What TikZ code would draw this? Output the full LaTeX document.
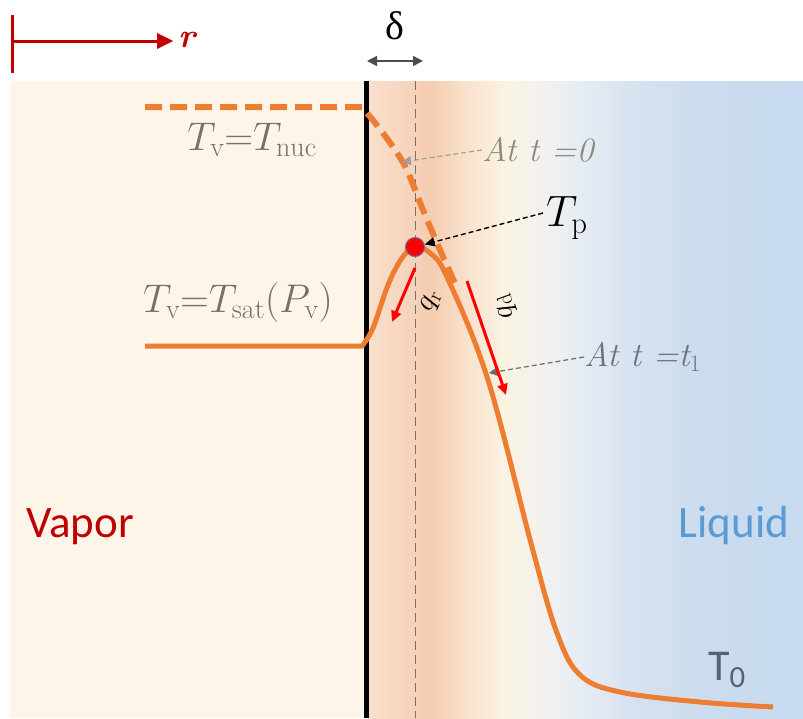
\RequirePackage{fix-cm}
\documentclass[tikz,border=0pt]{standalone}
\usepackage{fontspec}
\newfontfamily\carlito{Carlito}
\newfontfamily\grkfont{Liberation Serif}
\usetikzlibrary{arrows.meta,calc}
\definecolor{cream}{HTML}{FDF5E8}
\definecolor{bgA}{HTML}{F9E0CE}
\definecolor{bgB}{HTML}{F6D3BA}
\definecolor{bgC}{HTML}{F5CCB0}
\definecolor{bgD}{HTML}{F9E4CF}
\definecolor{bgE}{HTML}{FBF3E2}
\definecolor{bgF}{HTML}{F2F1EF}
\definecolor{bgG}{HTML}{E6ECF4}
\definecolor{bgH}{HTML}{D5E1EF}
\definecolor{bgI}{HTML}{CCDCEE}
\definecolor{bgJ}{HTML}{C7DAF0}
\definecolor{curveorange}{HTML}{ED7D31}
\definecolor{vaporred}{HTML}{C00000}
\definecolor{fluxred}{HTML}{FF0000}
\definecolor{labelgray}{HTML}{72726A}
\definecolor{notegray}{HTML}{8A8A82}
\definecolor{noteblue}{HTML}{6A7480}
\definecolor{liquidblue}{HTML}{5B9BD5}
\definecolor{tzero}{HTML}{566270}
\definecolor{dotrim}{HTML}{6A6F9A}
\tikzset{
 wall/.style={line width=5pt},
 midline/.style={draw=black!55,line width=1pt,dash pattern=on 9pt off 5pt},
 profile/.style={draw=curveorange,line width=5pt,line join=round},
 initprofile/.style={draw=curveorange,line width=6pt,dash pattern=on 17pt off 8pt},
 heatflux/.style={draw=fluxred,line width=3pt,-{Triangle[length=11pt,width=10pt]}},
 pointer/.style={draw=gray!75,line width=1.2pt,dash pattern=on 5pt off 3pt,-{Triangle[length=9pt,width=9pt]}},
 tppointer/.style={draw=black,line width=1.4pt,dash pattern=on 5pt off 3pt,-{Triangle[length=10pt,width=9pt]}},
 raxis/.style={draw=vaporred,line width=3pt},
 hotspot/.style={circle,fill=fluxred,draw=dotrim,line width=1pt,minimum size=19pt,inner sep=0},
 tlabel/.style={text=labelgray,font=\fontsize{40}{40}\selectfont,inner sep=0},
 fluxlabel/.style={font=\fontsize{30}{30}\selectfont,inner sep=0},
 note/.style={font=\fontsize{34}{34}\selectfont\itshape,inner sep=0,anchor=west},
 phase/.style={font=\carlito\fontsize{45}{45}\selectfont,inner sep=0}
}
\begin{document}
\begin{tikzpicture}[x=1pt,y=-1pt]
\useasboundingbox (0,0) rectangle (803,718);
% background
\fill[cream] (10,81) rectangle (366,718);
\foreach \xa/\xb/\ca/\cb in {366/412/bgA/bgB,412/430/bgB/bgC,430/470/bgC/bgD,470/505/bgD/bgE,505/545/bgE/bgF,545/580/bgF/bgG,580/640/bgG/bgH,640/700/bgH/bgI,700/803/bgI/bgJ}
  \shade[left color=\ca,right color=\cb] (\xa,81) rectangle (\xb+0.6,718);
\draw[midline] (415,81) -- (415,718);
\draw[wall] (366,81) -- (366,718);

% r axis
\coordinate (rtick) at (12,15);
\coordinate (rbase) at (12,73);
\coordinate (rstart) at (12,41);
\node[text=vaporred,font=\fontsize{34}{34}\selectfont,inner sep=0] (rlab) at (188,40) {\textbf{\textit{r}}};
\draw[raxis] (rtick) -- (rbase);
\draw[raxis,-{Triangle[length=16pt,width=15pt]}] (rstart) -- ($(rlab.west)+(-5,1)$);

% delta
\node[font=\grkfont\fontsize{40}{40}\selectfont,inner sep=0] (delta) at (395,26) {δ};
\coordinate (dl) at (367,61);
\coordinate (dr) at (423,61);
\draw[draw=black!70,line width=1.5pt,{Triangle[length=10pt,width=10pt]}-{Triangle[length=10pt,width=10pt]}] (dl) -- (dr);

% temperature profiles
\draw[profile] (145,346) -- plot[smooth,tension=.6] coordinates {(362,346) (373,328) (388,285) (402,258) (415,247) (430,253) (447,277) (488,380) (532,547) (557,633) (580,675) (620,692) (700,702) (773,707)};
\draw[initprofile] (145,107) -- plot[smooth,tension=.5] coordinates {(362,107) (383,133) (405,166) (423,210) (440,250) (458,290)};

% labels of profiles
\node[tlabel] (Tnuc) at (252,140) {$T_{\mathrm{v}}{=}T_{\mathrm{nuc}}$};
\node[tlabel] (Tsat) at (238,302) {$T_{\mathrm{v}}{=}T_{\mathrm{sat}}(P_{\mathrm{v}})$};

% time notes
\node[note,text=notegray] (tzeronote) at (482,150) {At t =0};
\coordinate (tzerotip) at (402,162);
\draw[pointer] (tzeronote.west) -- (tzerotip);
\node[note,text=noteblue] (tonenote) at (584,357) {At t =t$_1$};
\coordinate (tonetip) at (489,373);
\draw[pointer,draw=gray!85!black] (tonenote.west) -- (tonetip);

% heat fluxes
\coordinate (qrs) at (415,268);
\coordinate (qre) at (392,322);
\draw[heatflux] (qrs) -- (qre);
\node[fluxlabel,rotate=65] (qr) at (431,301) {$q_{\mathrm{r}}$};
\coordinate (qds) at (467,281);
\coordinate (qde) at (506,395);
\draw[heatflux] (qds) -- (qde);
\node[fluxlabel,rotate=110] (qd) at (506,306) {$q_{\mathrm{d}}$};

% peak temperature
\node[hotspot] (peak) at (415,247) {};
\node[font=\fontsize{44}{44}\selectfont,inner sep=0,anchor=west] (Tp) at (546,218) {$T_{\mathrm{p}}$};
\draw[tppointer] ($(Tp.west)+(-3,-5)$) -- (peak);

% phases
\node[phase,text=vaporred] (vapor) at (80,527) {Vapor};
\node[phase,text=liquidblue] (liquid) at (734,525) {Liquid};
\node[phase,text=tzero,font=\carlito\fontsize{44}{44}\selectfont] (Tzero) at (727,670) {T\textsubscript{0}};
\end{tikzpicture}
\end{document}
